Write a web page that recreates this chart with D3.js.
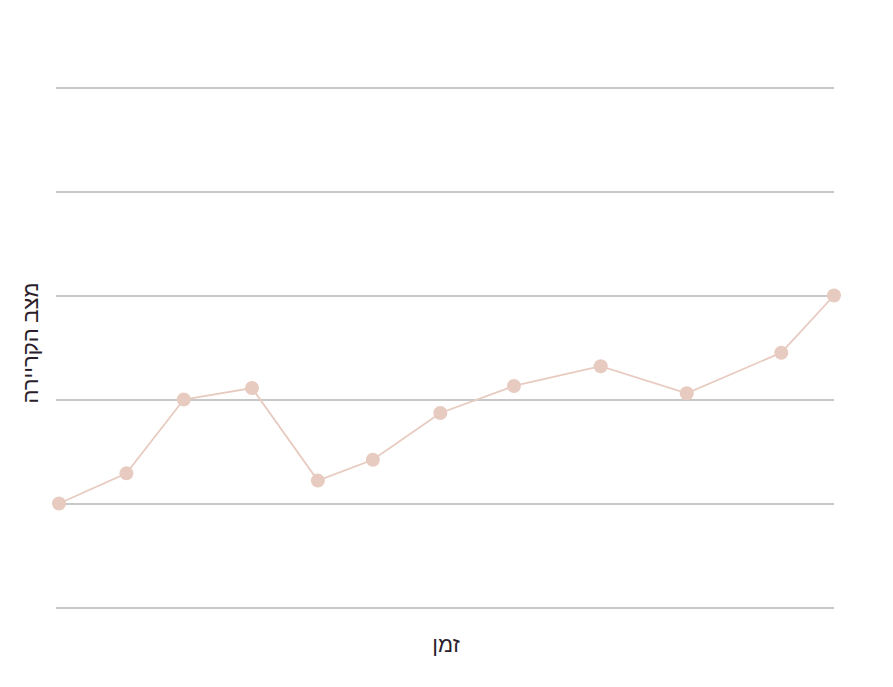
<!DOCTYPE html>
<html><head><meta charset="utf-8">
<script src="https://cdn.jsdelivr.net/npm/d3@7"></script>
<style>body{margin:0;background:#fff}svg{display:block}</style>
</head><body>
<svg id="c" width="893" height="687"></svg>
<script>
const times = [0, 0.87, 1.61, 2.49, 3.34, 4.05, 4.92, 5.87, 6.99, 8.10, 9.32, 10];
const careerValues = [1, 1.29, 2, 2.11, 1.22, 1.42, 1.87, 2.13, 2.32, 2.06, 2.45, 3];
const yTicks = [0, 1, 2, 3, 4, 5];
const xLabel = "זמן";
const yLabel = "מצב הקריירה";

const svg = d3.select("#c");
const x = d3.scaleLinear().domain([0, 10]).range([59, 834]);
const y = d3.scaleLinear().domain([0, 5]).range([607.5, 87.5]);

const grid = svg.append("g")
  .attr("transform", "translate(56,0)")
  .call(d3.axisLeft(y).tickValues(yTicks).tickSize(-(834 - 56)).tickFormat(""));
grid.select(".domain").remove();
grid.selectAll(".tick line").attr("stroke", "#c8c8c8").attr("stroke-width", 1.8);

const data = times.map((t, i) => ({t, v: careerValues[i]}));
const col = "#e8cbc0";
svg.append("path").datum(data)
  .attr("fill", "none").attr("stroke", col).attr("stroke-width", 1.8)
  .attr("d", d3.line().x(d => x(d.t)).y(d => y(d.v)));
svg.selectAll("circle.p").data(data).join("circle")
  .attr("class", "p").attr("cx", d => x(d.t)).attr("cy", d => y(d.v))
  .attr("r", 7).attr("fill", col);

svg.append("text").attr("x", 446).attr("y", 652)
  .attr("text-anchor", "middle").attr("font-family", "Noto Sans, sans-serif")
  .attr("font-size", 22).attr("font-weight", 500).attr("fill", "#2b1d2b").attr("direction", "rtl").text(xLabel);
svg.append("text").attr("transform", "translate(38,343) rotate(-90)")
  .attr("text-anchor", "middle").attr("font-family", "Noto Sans, sans-serif")
  .attr("font-size", 22).attr("font-weight", 500).attr("fill", "#2b1d2b").attr("direction", "rtl").text(yLabel);
</script>
</body></html>
